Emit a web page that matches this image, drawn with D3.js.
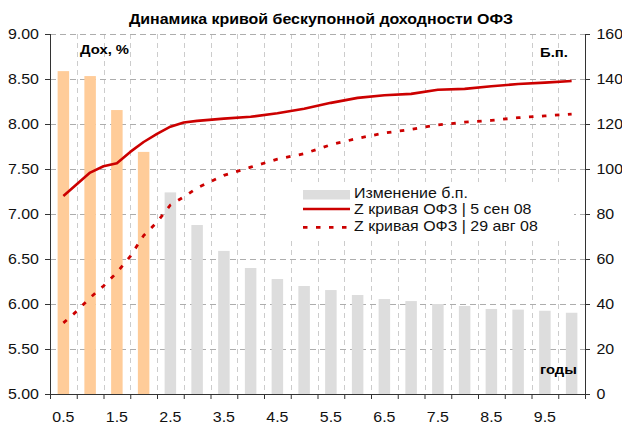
<!DOCTYPE html>
<html>
<head>
<meta charset="utf-8">
<script src="https://cdn.jsdelivr.net/npm/d3@7"></script>
<style>
body { margin: 0; background: #fff; }
svg { display: block; font-family: "Liberation Sans", Arial, sans-serif; }
</style>
</head>
<body>
<div id="chart"></div>
<script>
// maturities (years) of the bars
var years = [0.5, 1, 1.5, 2, 2.5, 3, 3.5, 4, 4.5, 5, 5.5, 6, 6.5, 7, 7.5, 8, 8.5, 9, 9.5, 10];
// change, b.p. (right axis)
var bpChange = [143.5, 141.3, 126.2, 107.6, 89.6, 75.1, 63.6, 56, 51.1, 48, 46.2, 44, 42.2, 41.3, 40, 39.1, 37.8, 37.5, 37, 36.1];
// zero-coupon curve points, % (left axis)
var curveYears = [0.5, 0.75, 1, 1.25, 1.5, 1.75, 2, 2.25, 2.5, 2.75, 3, 3.5, 4, 4.5, 5, 5.5, 6, 6.5, 7, 7.5, 8, 8.5, 9, 9.5, 10];
var zSep5 = [7.20, 7.33, 7.46, 7.53, 7.565, 7.69, 7.80, 7.89, 7.97, 8.017, 8.035, 8.06, 8.08, 8.12, 8.17, 8.235, 8.29, 8.32, 8.335, 8.38, 8.39, 8.42, 8.444, 8.46, 8.478];
var zAug29 = [5.79, 5.92, 6.07, 6.20, 6.35, 6.53, 6.76, 6.91, 7.10, 7.19, 7.29, 7.43, 7.52, 7.61, 7.67, 7.77, 7.84, 7.90, 7.94, 7.99, 8.02, 8.04, 8.07, 8.09, 8.11];

var leftTicks = [5, 5.5, 6, 6.5, 7, 7.5, 8, 8.5, 9];
var rightTicks = [0, 20, 40, 60, 80, 100, 120, 140, 160];
var xLabels = [0.5, 1.5, 2.5, 3.5, 4.5, 5.5, 6.5, 7.5, 8.5, 9.5];
var seriesNames = ["Изменение б.п.", "Z кривая ОФЗ | 5 сен 08", "Z кривая ОФЗ | 29 авг 08"];
var highlighted = 4; // first bars drawn in orange

var W = 622, H = 423;
var SX = 1.14; // the original text is a bit wide
var red = "#cc0000";

var svg = d3.select("#chart").append("svg").attr("width", W).attr("height", H);

var x = d3.scaleBand().domain(years).range([50, 585]).padding(0);
var bw = x.bandwidth();
var xEdge = d3.scaleLinear().domain([0, years.length]).range([50, 585]);
var xYear = d3.scaleLinear().domain([years[0], years[years.length - 1]])
    .range([x(years[0]) + bw / 2, x(years[years.length - 1]) + bw / 2]);
var yL = d3.scaleLinear().domain([5, 9]).range([394, 34]);
var yR = d3.scaleLinear().domain([0, 160]).range([394, 34]);

function wide(sel, tx, ty) {
    sel.attr("transform", "translate(" + tx + "," + ty + ") scale(" + SX + ",1)");
    return sel;
}

// grid
var grid = svg.append("g");
grid.selectAll(".vg").data(d3.range(1, years.length)).enter().append("line")
    .attr("x1", function(d) { return Math.round(xEdge(d)) + 0.5; })
    .attr("x2", function(d) { return Math.round(xEdge(d)) + 0.5; })
    .attr("y1", 34).attr("y2", 394)
    .attr("stroke", "#cccccc").attr("stroke-dasharray", "5,4");
grid.selectAll(".hg").data(leftTicks.slice(1)).enter().append("line")
    .attr("x1", 50).attr("x2", 585)
    .attr("y1", function(d) { return Math.round(yL(d)) + 0.5; })
    .attr("y2", function(d) { return Math.round(yL(d)) + 0.5; })
    .attr("stroke", "#adadad").attr("stroke-dasharray", "6,4");

// bars
svg.append("g").selectAll("rect").data(bpChange).enter().append("rect")
    .attr("x", function(d, i) { return x(years[i]) + bw / 2 - bw * 0.215; })
    .attr("width", bw * 0.43)
    .attr("y", function(d) { return yR(d); })
    .attr("height", function(d) { return yR(0) - yR(d); })
    .attr("fill", function(d, i) { return i < highlighted ? "#ffcc99" : "#dddddd"; });

// lines
var line = d3.line()
    .x(function(d, i) { return xYear(curveYears[i]); })
    .y(function(d) { return yL(d); });
svg.append("path").datum(zAug29).attr("d", line)
    .attr("fill", "none").attr("stroke", red).attr("stroke-width", 2.8)
    .attr("stroke-dasharray", "4.5,8.5");
svg.append("path").datum(zSep5).attr("d", line)
    .attr("fill", "none").attr("stroke", red).attr("stroke-width", 2.6)
    .attr("stroke-linejoin", "round");

// axes
var axisColor = "#333333";
var gl = svg.append("g").attr("transform", "translate(50,0)")
    .call(d3.axisLeft(yL).tickValues(leftTicks).tickSize(5).tickFormat(d3.format(".2f")));
var gr = svg.append("g").attr("transform", "translate(585,0)")
    .call(d3.axisRight(yR).tickValues(rightTicks).tickSize(5));
var gb = svg.append("g").attr("transform", "translate(0,394)")
    .call(d3.axisBottom(xEdge).tickValues(d3.range(0, years.length + 1)).tickSize(5).tickFormat(""));
[gl, gr, gb].forEach(function(g) {
    g.select(".domain").attr("stroke", axisColor);
    g.selectAll(".tick line").attr("stroke", axisColor);
    g.selectAll("text").attr("font-size", 14).attr("font-family", null).attr("fill", "#111");
});
gl.select(".domain").attr("d", "M0.5,34V394.5");
gr.select(".domain").attr("d", "M0.5,34V394.5");
gb.select(".domain").attr("d", "M50,0.5H585.5");
gl.selectAll(".tick text").attr("x", 0).each(function() { wide(d3.select(this), -11, 0); });
gr.selectAll(".tick text").attr("x", 0).each(function() { wide(d3.select(this), 11.5, 0); });

svg.append("g").selectAll("text").data(xLabels).enter().append("text")
    .attr("text-anchor", "middle").attr("font-size", 14).attr("fill", "#111")
    .text(function(d) { return d; })
    .each(function(d) { wide(d3.select(this), x(d) + bw / 2, 421.5); });

// title and axis captions
wide(svg.append("text").attr("text-anchor", "middle").attr("font-size", 14).attr("font-weight", "bold")
    .text("Динамика кривой бескупонной доходности ОФЗ"), 321, 24);
wide(svg.append("text").attr("font-size", 13).attr("font-weight", "bold").text("Дох, %"), 80, 53.5);
wide(svg.append("text").attr("font-size", 13).attr("font-weight", "bold").text("Б.п."), 540, 56.5);
wide(svg.append("text").attr("font-size", 13).attr("font-weight", "bold").text("годы"), 540, 373.5);

// legend
var lg = svg.append("g");
lg.append("rect").attr("x", 266).attr("y", 182).attr("width", 308).attr("height", 56).attr("fill", "#fff");
lg.append("rect").attr("x", 303).attr("y", 190).attr("width", 47).attr("height", 9.5).attr("fill", "#dddddd");
lg.append("line").attr("x1", 303).attr("x2", 350).attr("y1", 209).attr("y2", 209)
    .attr("stroke", red).attr("stroke-width", 2.6);
lg.append("line").attr("x1", 303).attr("x2", 350).attr("y1", 227.3).attr("y2", 227.3)
    .attr("stroke", red).attr("stroke-width", 2.8).attr("stroke-dasharray", "4.5,8.5");
lg.selectAll("text").data(seriesNames).enter().append("text")
    .attr("font-size", 14).attr("fill", "#111")
    .text(function(d) { return d; })
    .each(function(d, i) { wide(d3.select(this), 354, 197.7 + i * 16.5); });
</script>
</body>
</html>
